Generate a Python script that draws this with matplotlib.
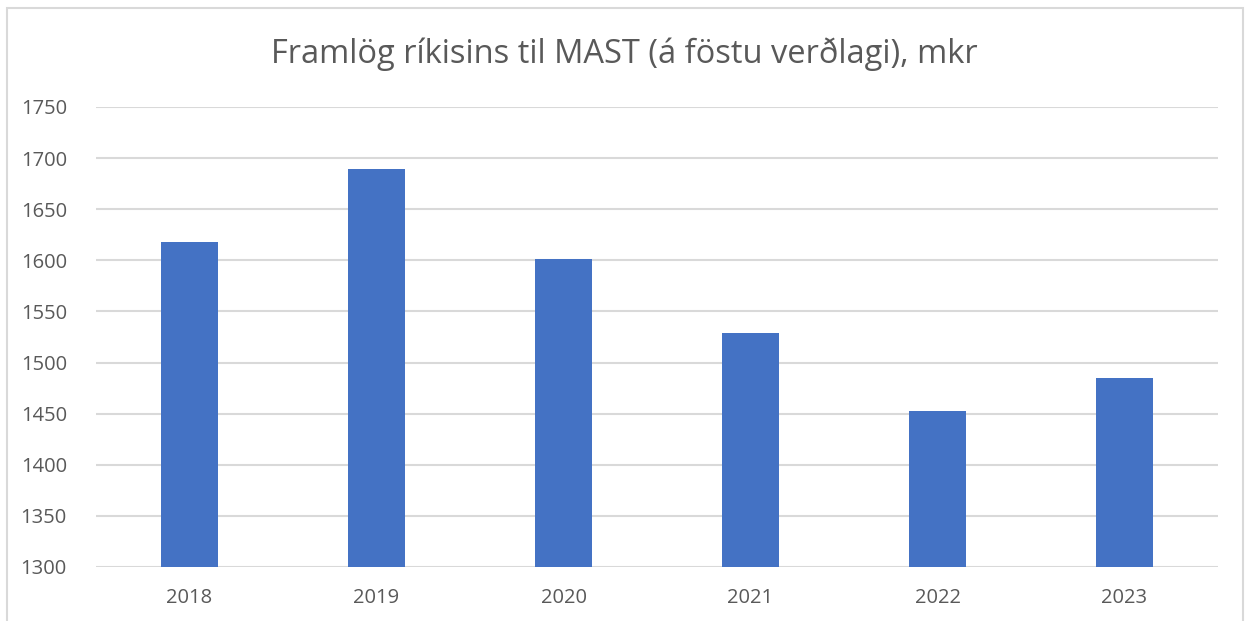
import matplotlib.pyplot as plt
from matplotlib.patches import Rectangle

years = ["2018", "2019", "2020", "2021", "2022", "2023"]
values = [1618, 1689, 1601, 1529, 1453, 1485]
yticks = [1300, 1350, 1400, 1450, 1500, 1550, 1600, 1650, 1700, 1750]

plt.rcParams["font.family"] = ["Open Sans", "DejaVu Sans"]
TEXT = "#595959"
GRID = "#d9d9d9"

fig = plt.figure(figsize=(12.48, 6.21), dpi=100)
ax = fig.add_axes([96 / 1248, 1 - 567 / 621, 1122 / 1248, 460 / 621])

x = range(len(years))
ax.bar(x, values, width=0.31, color="#4472c4", zorder=3)

ax.set_xlim(-0.5, len(years) - 0.5)
ax.set_ylim(1300, 1750)
ax.set_yticks(yticks)
ax.set_xticks(list(x))
ax.set_xticklabels(years)
ax.grid(axis="y", color=GRID, linewidth=1.5, zorder=0)
ax.tick_params(axis="both", length=0, labelsize=14.5, colors=TEXT)
ax.tick_params(axis="x", pad=15)
ax.tick_params(axis="y", pad=21)
for s in ax.spines.values():
    s.set_visible(False)

fig.text(0.5, 1 - 54 / 621, "Framlög ríkisins til MAST (á föstu verðlagi), mkr",
         ha="center", va="center", fontsize=23.5, color=TEXT)

# chart border (bottom edge runs off the image)
fig.patches.append(Rectangle((7 / 1248, -0.05), 1236 / 1248, 1.05 - 8 / 621,
                             transform=fig.transFigure, fill=False,
                             edgecolor=GRID, linewidth=1.5))

fig.savefig("out.png", dpi=100)
